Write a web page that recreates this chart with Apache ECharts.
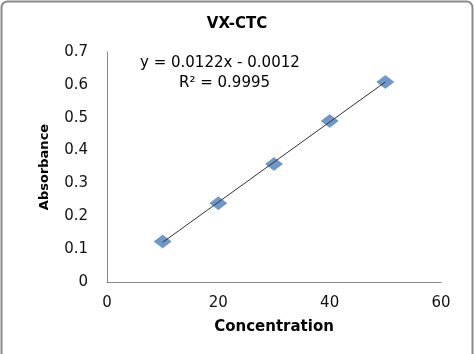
<!DOCTYPE html>
<html><head><meta charset="utf-8">
<script src="https://cdn.jsdelivr.net/npm/echarts@6/dist/echarts.min.js"></script>
<style>html,body{margin:0;padding:0;background:#fff}#c{width:474px;height:354px}</style>
</head><body><div id="c"></div>
<script>
var concentration = [10, 20, 30, 40, 50];
var absorbance = [0.123, 0.240, 0.359, 0.490, 0.609];
var trendX = [10, 50];
var trendY = [0.1208, 0.6088];
var xTicks = [0, 20, 40, 60];
var yTicks = [0, 0.1, 0.2, 0.3, 0.4, 0.5, 0.6, 0.7];
var titleText = 'VX-CTC';
var eqText = 'y = 0.0122x - 0.0012';
var r2Text = 'R² = 0.9995';

var font = '"DejaVu Sans", sans-serif';
var chart = echarts.init(document.getElementById('c'), null, {renderer: 'canvas'});
chart.setOption({
  animation: false,
  backgroundColor: '#fff',
  title: {text: titleText, left: 'center', top: 12,
    textStyle: {fontFamily: font, fontSize: 15, fontWeight: 'bold', color: '#000'}},
  grid: {left: 107, right: 33, top: 52, bottom: 72},
  xAxis: {type: 'value', min: 0, max: 60, interval: 20,
    name: 'Concentration', nameLocation: 'middle', nameGap: 38,
    nameTextStyle: {fontFamily: font, fontSize: 15, fontWeight: 'bold', color: '#000'},
    axisLine: {lineStyle: {color: '#868686'}}, axisTick: {show: false},
    splitLine: {show: false},
    axisLabel: {fontFamily: font, fontSize: 15, color: '#111', margin: 14}},
  yAxis: {type: 'value', min: 0, max: 0.7, interval: 0.1,
    name: 'Absorbance', nameLocation: 'middle', nameGap: 56,
    nameTextStyle: {fontFamily: font, fontSize: 13, fontWeight: 'bold', color: '#000'},
    axisLine: {show: true, lineStyle: {color: '#868686'}}, axisTick: {show: false},
    splitLine: {show: false},
    axisLabel: {fontFamily: font, fontSize: 15, color: '#111', margin: 19, padding: [4, 0, 0, 0],
      formatter: function (v) { return String(Math.round(v * 10) / 10); }}},
  graphic: [
    {type: 'rect', shape: {x: 1.5, y: 1.5, width: 471, height: 360, r: 6}, silent: true,
      style: {fill: 'none', stroke: '#8a8a8a', lineWidth: 2}},
    {type: 'text', left: 140, top: 56, style: {text: eqText, font: '15px ' + font, fill: '#000'}},
    {type: 'text', left: 179, top: 76, style: {text: r2Text, font: '15px ' + font, fill: '#000'}}
  ],
  series: [
    {type: 'scatter', data: concentration.map(function (x, i) { return [x, absorbance[i]]; }),
      symbol: 'diamond', symbolSize: [17, 13],
      itemStyle: {color: '#4a7ebb', borderColor: '#3b6aa8', borderWidth: 0.5}, z: 2},
    {type: 'line', data: trendX.map(function (x, i) { return [x, trendY[i]]; }),
      symbol: 'none', lineStyle: {color: '#333', width: 1}, z: 3}
  ]
});
</script></body></html>
